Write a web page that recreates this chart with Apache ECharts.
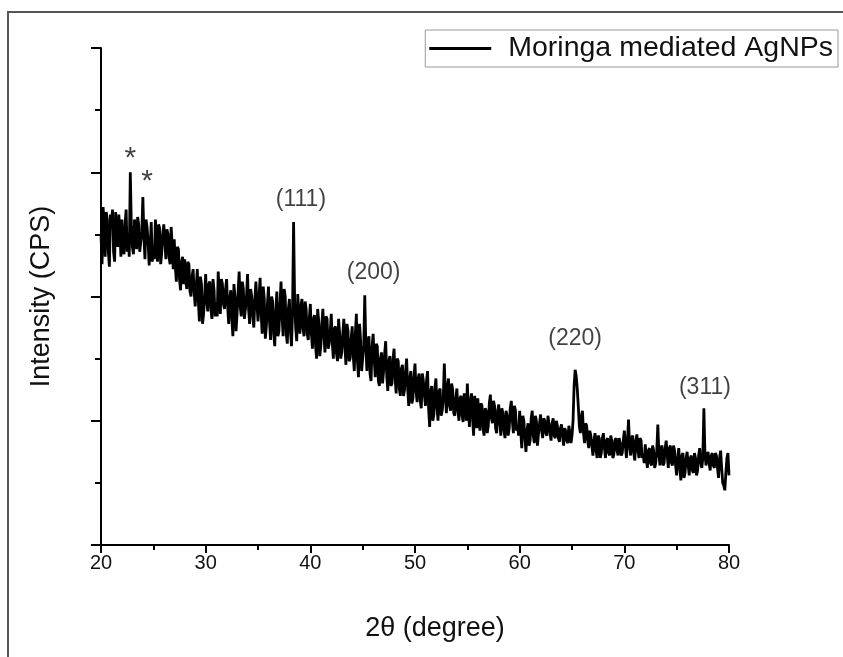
<!DOCTYPE html>
<html>
<head>
<meta charset="utf-8">
<script src="https://cdn.jsdelivr.net/npm/echarts@6/dist/echarts.min.js"></script>
<style>
  html, body { margin: 0; padding: 0; background: #fff; }
  #chart { width: 843px; height: 657px; }
</style>
</head>
<body>
<div id="chart"></div>
<script>
const startAngle = 20
const stepAngle = 0.1
const intensity = [
  250,226,272,258,232,268,262,236,224,266, // 20
  258,270,236,228,268,246,240,266,255,232, // 21
  262,240,234,258,270,236,248,232,300,256, // 22
  240,234,262,252,238,264,258,236,244,252, // 23
  280,248,230,262,256,244,225,240,260,228, // 24
  240,230,262,246,228,258,255,226,235,250, // 25
  258,244,230,254,250,232,226,256,242,222, // 26
  246,224,212,240,238,214,205,228,232,210, // 27
  230,212,206,228,226,204,200,216,222,204, // 28
  192,208,222,196,180,216,210,178,186,200, // 29
  218,196,188,210,212,190,182,214,205,184, // 30
  195,184,220,200,186,214,210,194,190,206, // 31
  214,192,178,198,205,182,168,210,200,172, // 32
  186,204,220,192,184,212,206,182,190,200, // 33
  218,190,178,206,200,184,175,198,212,194, // 34
  180,200,215,186,170,208,198,166,176,194, // 35
  208,180,165,200,196,170,160,188,204,168, // 36
  172,194,212,184,168,206,200,170,162,190, // 37
  198,172,160,188,260,196,175,164,202,186, // 38
  170,192,198,174,168,196,190,170,165,182, // 39
  194,170,158,182,185,160,150,190,180,152, // 40
  160,178,190,168,155,184,182,158,162,172, // 41
  186,162,150,174,176,154,148,182,170,150, // 42
  155,170,182,160,145,178,172,148,150,166, // 43
  176,152,140,170,186,148,135,178,165,140, // 44
  150,160,201,162,140,164,168,138,132,160, // 45
  170,150,135,162,160,132,128,150,155,130, // 46
  140,154,164,136,124,148,152,128,130,150, // 47
  158,134,122,150,148,126,120,142,145,120, // 48
  125,140,150,126,112,134,140,114,118,136, // 49
  146,124,115,134,138,116,110,138,132,120, // 50
  112,132,140,110,95,124,128,100,105,126,  // 51
  134,110,100,124,126,104,108,118,146,122, // 52
  106,128,134,112,108,130,125,106,104,118, // 53
  126,108,100,118,120,104,99,122,118,100,  // 54
  130,110,95,116,122,102,88,120,112,94,    // 55
  118,104,92,114,112,94,88,110,108,90,     // 56
  96,114,121,102,98,116,112,94,90,108,     // 57
  113,98,88,110,106,92,86,108,104,88,      // 58
  94,110,116,100,90,112,108,92,96,88,      // 59
  108,92,78,104,100,86,75,92,98,80,        // 60
  84,102,108,88,82,104,100,80,90,98,       // 61
  105,92,86,102,100,90,88,104,98,90,       // 62
  84,98,102,88,86,100,96,86,83,94,         // 63
  97,88,80,94,92,84,82,96,90,82,           // 64
  88,100,128,141,136,126,112,96,90,104,    // 65
  108,90,82,98,96,84,78,92,88,80,          // 66
  72,84,90,76,70,88,86,70,74,86,           // 67
  90,78,70,84,86,74,72,88,84,70,           // 68
  73,84,86,76,72,86,82,72,74,84,           // 69
  92,80,70,84,101,80,72,86,88,74,          // 70
  68,84,89,76,70,86,84,70,72,66,           // 71
  81,70,62,76,78,66,64,80,76,62,           // 72
  66,76,97,74,64,78,80,64,66,78,           // 73
  84,72,62,78,80,66,64,80,76,64,           // 74
  56,70,78,62,52,72,74,54,58,70,           // 75
  75,64,56,70,72,60,58,74,70,56,           // 76
  60,72,78,66,62,70,110,74,64,72,          // 77
  75,66,60,72,74,64,62,74,72,62,           // 78
  54,70,76,62,50,48,44,58,70,74,           // 79
  56                                       // 80
]

// peak annotations: angle, height where the text sits, text
const peakAngles = [22.8, 24.4, 39.1, 46.05, 65.3, 77.7]
const peakHeights = [311, 292, 278, 219, 166, 127]
const peakTexts = ['*', '*', '(111)', '(200)', '(220)', '(311)']

const seriesName = 'Moringa mediated AgNPs'
const xTicks = [20, 30, 40, 50, 60, 70, 80]

const xrdData = intensity.map((v, i) => [+(startAngle + i * stepAngle).toFixed(2), v])
const labelData = peakAngles.map((a, i) => ({ value: [a, peakHeights[i]], name: peakTexts[i] }))

const chart = echarts.init(document.getElementById('chart'))
const font = 'Liberation Sans, Arial, sans-serif'

chart.setOption({
  animation: false,
  backgroundColor: '#fff',
  grid: { left: 101, right: 114, top: 48, bottom: 112 },
  legend: {
    data: [{ name: seriesName, icon: 'rect' }],
    right: 5,
    top: 30,
    itemWidth: 62,
    itemHeight: 3,
    itemGap: 10,
    padding: [4, 5, 4, 4],
    borderColor: '#999',
    borderWidth: 1,
    textStyle: { fontFamily: font, fontSize: 28.5, color: '#111', padding: [0, 0, 0, 12] }
  },
  xAxis: {
    type: 'value',
    min: xTicks[0],
    max: xTicks[xTicks.length - 1],
    interval: 10,
    name: '2θ (degree)',
    nameLocation: 'middle',
    nameGap: 70,
    nameTextStyle: { fontFamily: font, fontSize: 27, color: '#111', padding: [0, 0, 0, 40] },
    axisLine: { onZero: false, lineStyle: { color: '#000', width: 2 } },
    axisTick: { show: true, length: 8, lineStyle: { color: '#000', width: 2 } },
    minorTick: { show: true, splitNumber: 2, length: 5, lineStyle: { color: '#000', width: 2 } },
    axisLabel: { fontFamily: font, fontSize: 20, color: '#111', margin: 8 },
    splitLine: { show: false }
  },
  yAxis: {
    type: 'value',
    min: 0,
    max: 400,
    interval: 100,
    name: 'Intensity (CPS)',
    nameLocation: 'middle',
    nameGap: 46,
    nameTextStyle: { fontFamily: font, fontSize: 27, color: '#111' },
    axisLine: { show: true, lineStyle: { color: '#000', width: 2 } },
    axisTick: { show: true, length: 10, lineStyle: { color: '#000', width: 2 } },
    minorTick: { show: true, splitNumber: 2, length: 6, lineStyle: { color: '#000', width: 2 } },
    axisLabel: { show: false },
    splitLine: { show: false }
  },
  series: [
    {
      name: seriesName,
      type: 'line',
      data: xrdData,
      symbol: 'none',
      lineStyle: { color: '#000', width: 2.8 },
      itemStyle: { color: '#000' }
    },
    {
      type: 'scatter',
      data: labelData,
      symbolSize: 0,
      silent: true,
      label: {
        show: true,
        position: 'inside',
        formatter: p => p.name,
        fontFamily: font,
        fontSize: 23,
        color: '#111'
      },
      labelLayout: p => p.text === '*' ? { fontSize: 30 } : {}
    }
  ],
  graphic: [
    { type: 'line', shape: { x1: 8, y1: 12, x2: 8, y2: 657 }, style: { stroke: '#555', lineWidth: 2 } },
    { type: 'line', shape: { x1: 7, y1: 12, x2: 843, y2: 12 }, style: { stroke: '#555', lineWidth: 2 } }
  ]
})
</script>
</body>
</html>
